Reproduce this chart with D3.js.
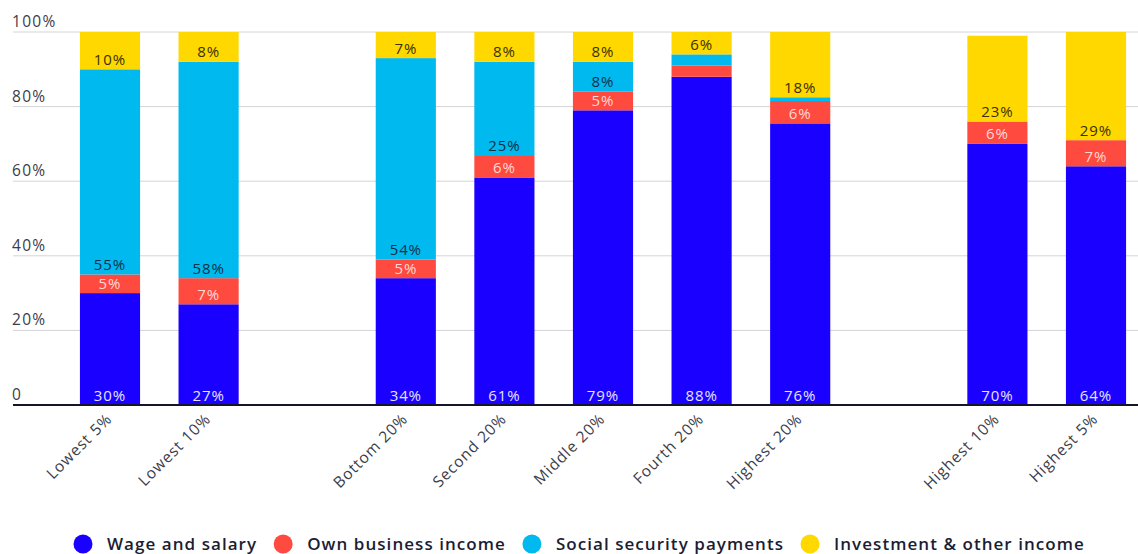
<!DOCTYPE html>
<html>
<head>
<meta charset="utf-8">
<script src="https://cdn.jsdelivr.net/npm/d3@7"></script>
<style>
  body { margin: 0; background: #fff; }
  svg { display: block; font-family: "Open Sans", "DejaVu Sans", sans-serif; }
</style>
</head>
<body>
<div id="chart"></div>
<script>
// categories (empty slots make the gaps between groups)
var categories = ["Lowest 5%", "Lowest 10%", "gap1", "Bottom 20%", "Second 20%", "Middle 20%",
                  "Fourth 20%", "Highest 20%", "gap2", "Highest 10%", "Highest 5%"];
var barCats = ["Lowest 5%", "Lowest 10%", "Bottom 20%", "Second 20%", "Middle 20%",
               "Fourth 20%", "Highest 20%", "Highest 10%", "Highest 5%"];

// shares of income, percent
var wage       = [30, 27, 34, 61, 79, 88, 75.5, 70, 64];
var business   = [5, 7, 5, 6, 5, 3, 6, 6, 7];
var socialSec  = [55, 58, 54, 25, 8, 3, 1, 0, 0];
var investment = [10, 8, 7, 8, 8, 6, 17.5, 23, 29];

var seriesNames = ["Wage and salary", "Own business income", "Social security payments", "Investment & other income"];
var seriesColors = ["#1a00ff", "#ff4a3f", "#00b9ee", "#ffd800"];
var labelColors = ["#e6e4ff", "#ffd9d6", "#10304a", "#3a3000"];
var yTicks = [0, 20, 40, 60, 80, 100];

var width = 1138, height = 554;
var y0 = 405, yTop = 32;

var svg = d3.select("#chart").append("svg").attr("width", width).attr("height", height);

var x = d3.scaleBand().domain(categories).range([60.7, 1145.3]).paddingInner(0.39).paddingOuter(0.195);
var y = d3.scaleLinear().domain([0, 100]).range([y0, yTop]);

// gridlines + tick labels
svg.append("g").selectAll("line").data(yTicks.slice(1)).enter().append("line")
    .attr("x1", 13).attr("x2", width)
    .attr("y1", function (d) { return y(d); }).attr("y2", function (d) { return y(d); })
    .attr("stroke", "#d4d4d8").attr("stroke-width", 1);

svg.append("g").selectAll("text").data(yTicks).enter().append("text")
    .attr("x", 12).attr("y", function (d) { return y(d) - 5; })
    .attr("font-size", 15.5).attr("letter-spacing", 1.3).attr("fill", "#3c3c4a")
    .text(function (d) { return d === 0 ? "0" : d + "%"; });

// stacked data
var rows = barCats.map(function (c, i) {
    return { cat: c, v: [wage[i], business[i], socialSec[i], investment[i]] };
});
var stack = d3.stack().keys([0, 1, 2, 3]).value(function (d, k) { return d.v[k]; });
var layers = stack(rows);

var g = svg.append("g");
layers.forEach(function (layer, k) {
    var lg = g.append("g");
    lg.selectAll("rect").data(layer).enter().append("rect")
        .attr("x", function (d) { return x(d.data.cat); })
        .attr("width", x.bandwidth())
        .attr("y", function (d) { return y(d[1]); })
        .attr("height", function (d) { return y(d[0]) - y(d[1]); })
        .attr("fill", seriesColors[k]);
});

// value labels, just above bottom of each segment
layers.forEach(function (layer, k) {
    g.append("g").selectAll("text").data(layer.filter(function (d) { return d[1] - d[0] >= 4; }))
        .enter().append("text")
        .attr("x", function (d) { return x(d.data.cat) + x.bandwidth() / 2; })
        .attr("y", function (d) { return y(d[0]) - 4.5; })
        .attr("text-anchor", "middle")
        .attr("font-size", 15)
        .attr("letter-spacing", 0.9)
        .attr("fill", labelColors[k])
        .text(function (d) { return Math.round(d[1] - d[0]) + "%"; });
});

// baseline
svg.append("line").attr("x1", 13).attr("x2", width).attr("y1", y0).attr("y2", y0)
    .attr("stroke", "#14142a").attr("stroke-width", 2);

// x labels rotated
svg.append("g").selectAll("text").data(barCats).enter().append("text")
    .attr("transform", function (d) {
        return "translate(" + (x(d) + x.bandwidth() / 2 + 3) + "," + (y0 + 15) + ") rotate(-45)";
    })
    .attr("text-anchor", "end")
    .attr("font-size", 15.5)
    .attr("letter-spacing", 0.9)
    .attr("fill", "#3c3c4a")
    .text(function (d) { return d; });

// legend
var legend = svg.append("g").attr("transform", "translate(0,544)");
var lx = 74;
seriesNames.forEach(function (name, k) {
    legend.append("circle").attr("cx", lx + 9).attr("cy", 0).attr("r", 9.5).attr("fill", seriesColors[k]);
    var t = legend.append("text").attr("x", lx + 33).attr("y", 6)
        .attr("font-size", 17).attr("font-weight", 600).attr("letter-spacing", 1.05)
        .attr("fill", "#1b1d33").text(name);
    lx = lx + 33 + t.node().getComputedTextLength() + 17;
});
</script>
</body>
</html>
